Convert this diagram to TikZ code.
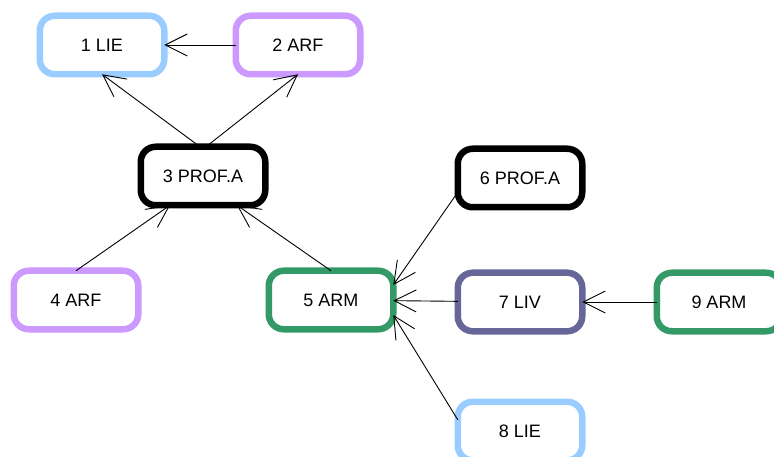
\documentclass[tikz,border=0pt]{standalone}
\usepackage{fontspec}
\setmainfont{Liberation Sans}
\usetikzlibrary{arrows.meta}
\definecolor{lieblue}{RGB}{153,204,255}
\definecolor{arfpurple}{RGB}{204,153,255}
\definecolor{armgreen}{RGB}{51,153,102}
\definecolor{livslate}{RGB}{102,102,153}
\begin{document}
\begin{tikzpicture}[x=1pt, y=-1pt,
    box/.style={draw, line width=6.5pt, rounded corners=15pt, minimum width=124.5pt,
      minimum height=58.5pt, outer sep=0pt, font=\fontsize{18}{20}\selectfont},
    link/.style={-{Straight Barb[length=22pt,width=22pt]}, line width=0.9pt}]
      \useasboundingbox (0,0) rectangle (774,457);
      \clip (0,0) rectangle (774,457);
      \node[box, draw=lieblue] (lie1) at (102,45) {1 LIE};
      \node[box, draw=arfpurple] (arf2) at (298,45) {2 ARF};
      \node[box, draw=black] (profa3) at (203,176) {3 PROF.A};
      \node[box, draw=arfpurple] (arf4) at (76,300) {4 ARF};
      \node[box, draw=armgreen] (arm5) at (331,300) {5 ARM};
      \node[box, draw=black] (profa6) at (520,178) {6 PROF.A};
      \node[box, draw=livslate] (liv7) at (520,302) {7 LIV};
      \node[box, draw=lieblue] (lie8) at (520,431) {8 LIE};
      \node[box, draw=armgreen] (arm9) at (719,302) {9 ARM};
      \draw[link] (arf2) -- (lie1);
      \draw[link] ([xshift=-3pt]profa3.north) -- (lie1.south);
      \draw[link] ([xshift=3pt]profa3.north) -- (arf2.south);
      \draw[link] (arf4.north) -- ([xshift=-33pt]profa3.south);
      \draw[link] (arm5.north) -- ([xshift=34pt]profa3.south);
      \draw[link] ([yshift=15pt]profa6.south west) -- ([yshift=15pt]arm5.east);
      \draw[link] (liv7) -- (arm5);
      \draw[link] ([yshift=-18pt]lie8.north west) -- ([yshift=-15pt]arm5.east);
      \draw[link] (arm9) -- (liv7);
\end{tikzpicture}
\end{document}
